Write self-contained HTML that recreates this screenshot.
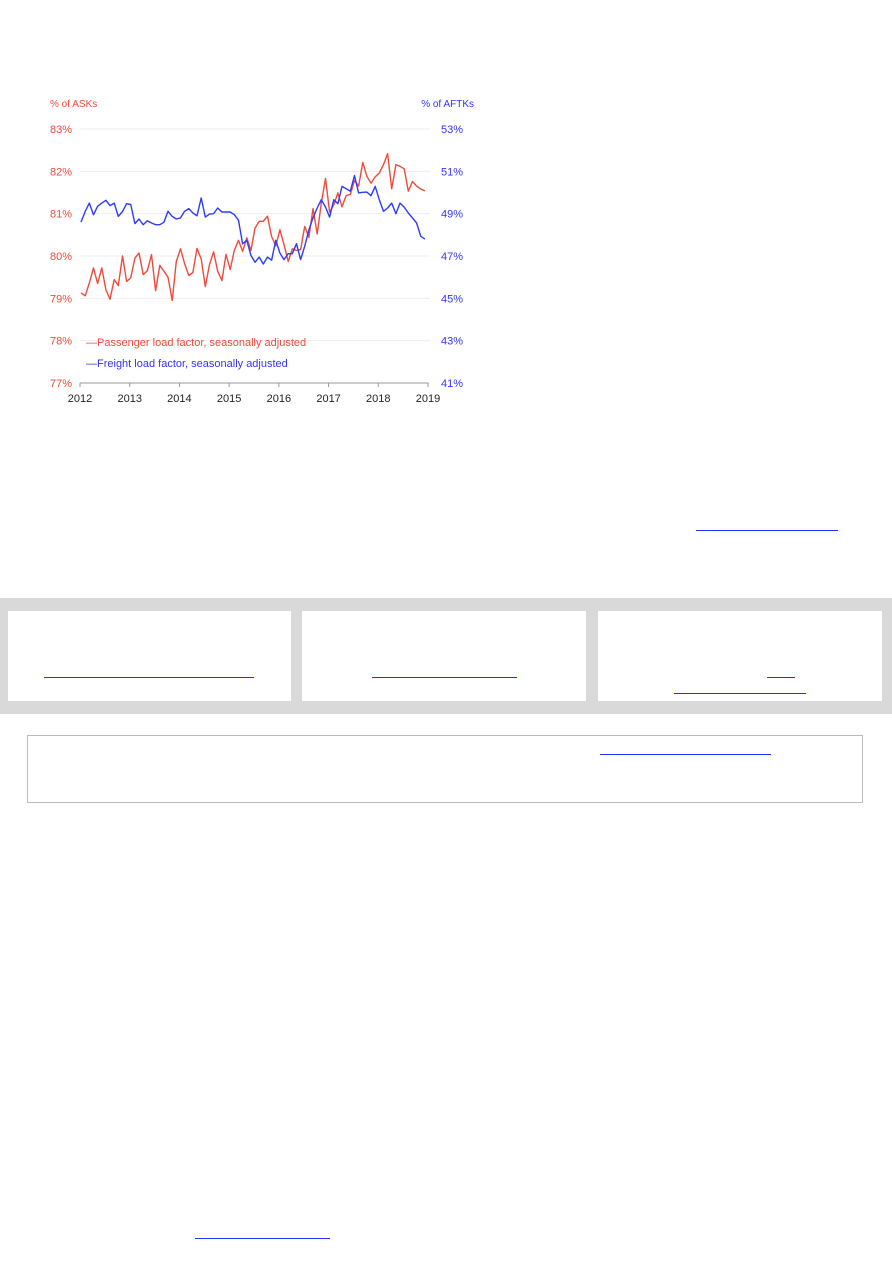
<!DOCTYPE html>
<html><head><meta charset="utf-8">
<style>
body{margin:0;width:892px;height:1263px;background:#fff;position:relative;font-family:"Liberation Sans",sans-serif;overflow:hidden}
.u{position:absolute;height:1px;background:#2233ff}
.band{position:absolute;left:0;top:598px;width:892px;height:116px;background:#d9d9d9}
.box{position:absolute;top:611px;height:90px;background:#fff}
.note{position:absolute;left:27px;top:735px;width:834px;height:66px;border:1px solid #bbb}
</style></head><body>
<svg id="chart" width="892" height="420" style="position:absolute;left:0;top:0" font-family="Liberation Sans, sans-serif" font-size="11"></svg>
<div class="u" style="left:696px;top:530px;width:142px"></div>
<div class="band"></div>
<div class="box" style="left:8px;width:283px"></div>
<div class="box" style="left:302px;width:284px"></div>
<div class="box" style="left:598px;width:284px"></div>
<div class="u" style="left:44px;top:677px;width:210px"></div>
<div class="u" style="left:372px;top:677px;width:145px"></div>
<div class="u" style="left:767px;top:677px;width:28px"></div>
<div class="u" style="left:674px;top:693px;width:132px"></div>
<div class="note"></div>
<div class="u" style="left:600px;top:754px;width:171px"></div>
<div class="u" style="left:195px;top:1238px;width:135px"></div>
<script>
const years=[2012,2013,2014,2015,2016,2017,2018,2019];
const leftTicks=[77,78,79,80,81,82,83];
const rightTicks=[41,43,45,47,49,51,53];
const passenger=[79.13,79.06,79.36,79.72,79.35,79.72,79.2,78.98,79.44,79.3,80.0,79.4,
79.48,79.95,80.07,79.56,79.65,80.03,79.18,79.78,79.64,79.5,78.95,79.87,
80.17,79.82,79.54,79.61,80.18,79.93,79.28,79.8,80.1,79.64,79.42,80.04,
79.68,80.13,80.37,80.11,80.43,80.13,80.66,80.82,80.82,80.94,80.46,80.24,
80.62,80.27,79.87,80.17,80.13,80.15,80.7,80.44,81.12,80.52,81.25,81.83,
81.04,81.21,81.49,81.16,81.43,81.45,81.78,81.65,82.21,81.88,81.72,81.87,
81.96,82.16,82.42,81.59,82.16,82.12,82.06,81.53,81.76,81.65,81.58,81.54];
const freight=[48.6,49.1,49.5,48.95,49.35,49.5,49.63,49.38,49.5,48.87,49.1,49.47,
49.44,48.53,48.75,48.48,48.67,48.56,48.48,48.48,48.59,49.11,48.87,48.75,
48.8,49.11,49.24,49.03,48.9,49.74,48.84,48.98,49.0,49.27,49.08,49.08,
49.08,48.95,48.69,47.57,47.74,47.03,46.7,46.95,46.62,46.95,46.8,47.74,
47.14,46.83,47.11,47.11,47.58,46.83,47.46,48.24,48.8,49.27,49.66,49.31,
48.84,49.66,49.47,50.29,50.18,50.06,50.8,49.98,50.01,50.02,49.85,50.29,
49.66,49.11,49.27,49.5,49.0,49.5,49.31,49.03,48.8,48.56,47.93,47.8];
const svg=document.getElementById('chart');const NS='http://www.w3.org/2000/svg';
const X0=80,X1=428,Y0=383,Y1=129;
const xs=t=>X0+(t-2012)/7*(X1-X0);
const yl=v=>Y0-(v-77)/6*(Y0-Y1);
const yr=v=>Y0-(v-41)/12*(Y0-Y1);
function el(tag,a,txt){const e=document.createElementNS(NS,tag);for(const k in a)e.setAttribute(k,a[k]);if(txt!=null)e.textContent=txt;svg.appendChild(e);return e;}
leftTicks.forEach((v,i)=>{
 const g=el('line',{x1:X0,x2:X1+2,y1:yl(v),y2:yl(v),stroke:'#eee','stroke-width':1});
 
 
 const t=el('text',{x:50,y:yl(v)+4,fill:'#f04a3a'},v+'%');
 
 
 const r=el('text',{x:441,y:yr(rightTicks[i])+4,fill:'#3333ff'},rightTicks[i]+'%');
 
 
});
const ax=el('line',{x1:X0,x2:X1,y1:Y0,y2:Y0,stroke:'#999'});


years.forEach(y=>{
 const tk=el('line',{x1:xs(y),x2:xs(y),y1:Y0,y2:Y0+4,stroke:'#999'});
 
 
 const t=el('text',{x:xs(y),y:Y0+19,'text-anchor':'middle',fill:'#222'},y);
 
 
});
const lt=el('text',{x:50,y:107,fill:'#f04a3a','font-size':10},'% of ASKs');


const rt=el('text',{x:474,y:107,fill:'#3333ff','font-size':10,'text-anchor':'end'},'% of AFTKs');


function line(data,yf,color,name){
 const d=data.map((v,i)=>(i?'L':'M')+xs(2012+(i+0.25)/12).toFixed(1)+' '+yf(v).toFixed(1)).join(' ');
 const p=el('path',{d:d,fill:'none',stroke:color,'stroke-width':1.4,'stroke-linejoin':'round'});
 
 
}
line(passenger,yl,'#f04a3a','passenger-line');
line(freight,yr,'#2b3bff','freight-line');
const l1=el('text',{x:86,y:346,fill:'#f04a3a'},'\u2014Passenger load factor, seasonally adjusted');


const l2=el('text',{x:86,y:367,fill:'#3333ff'},'\u2014Freight load factor, seasonally adjusted');


</script>
</body></html>
